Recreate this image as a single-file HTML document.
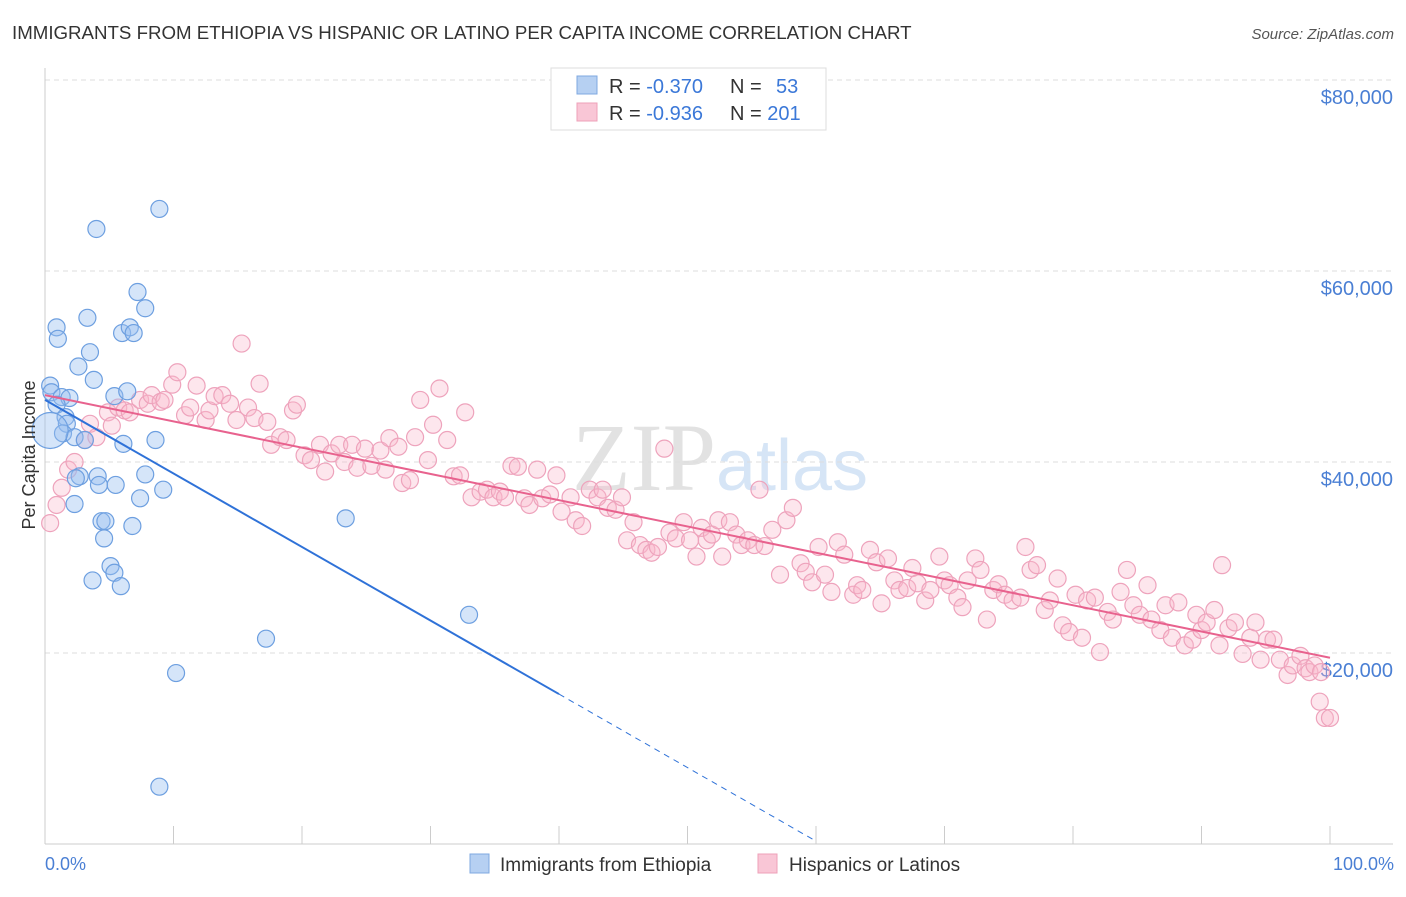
<!DOCTYPE html>
<html><head><meta charset="utf-8"><style>
body{margin:0;background:#fff;font-family:"Liberation Sans",sans-serif;}
svg text{font-family:"Liberation Sans",sans-serif;}
</style></head><body>
<svg id="chart" width="1406" height="892" xmlns="http://www.w3.org/2000/svg">
<text x="12" y="39" font-size="18.7" fill="#333">IMMIGRANTS FROM ETHIOPIA VS HISPANIC OR LATINO PER CAPITA INCOME CORRELATION CHART</text>
<text x="1394" y="39" font-size="15" fill="#555" font-style="italic" text-anchor="end">Source: ZipAtlas.com</text>
<text x="720" y="490" font-size="96" fill="#e4e4e4" text-anchor="middle" font-family="Liberation Serif"><tspan fill="#e2e2e2" font-family="Liberation Serif">ZIP</tspan><tspan fill="#d6e5f6" font-family="Liberation Sans" font-size="72">atlas</tspan></text>
<g id="grid"></g><g id="axes"></g><g id="pink"></g><g id="blue"></g><g id="lines"></g>
<text x="35" y="455" font-size="18" fill="#333" text-anchor="middle" transform="rotate(-90 35 455)">Per Capita Income</text>
<text x="45" y="870" font-size="18" fill="#4a7fd4">0.0%</text>
<text x="1394" y="870" font-size="18" fill="#4a7fd4" text-anchor="end">100.0%</text>
<g>
<rect x="551" y="68" width="275" height="62" fill="#fff" stroke="#ddd"/>
<rect x="577" y="76" width="20" height="18" fill="#b6d0f2" stroke="#7fa8e0"/>
<rect x="577" y="103" width="20" height="18" fill="#f9c6d6" stroke="#eea0b8"/>
<text x="609" y="93" font-size="20" fill="#333">R = <tspan fill="#3b78d8">-0.370</tspan></text>
<text x="730" y="93" font-size="20" fill="#333">N = <tspan fill="#3b78d8" x="776">53</tspan></text>
<text x="609" y="120" font-size="20" fill="#333">R = <tspan fill="#3b78d8">-0.936</tspan></text>
<text x="730" y="120" font-size="20" fill="#333">N = <tspan fill="#3b78d8">201</tspan></text>
</g>
<g>
<rect x="470" y="854" width="19" height="19" fill="#b6d0f2" stroke="#7fa8e0"/>
<text x="500" y="871" font-size="19" fill="#333">Immigrants from Ethiopia</text>
<rect x="758" y="854" width="19" height="19" fill="#f9c6d6" stroke="#eea0b8"/>
<text x="789" y="871" font-size="19" fill="#333">Hispanics or Latinos</text>
</g>
</svg>
<script>
const yTicks=[20000,40000,60000,80000];
const yTickLabels=["$20,000","$40,000","$60,000","$80,000"];
const xTicks=[0,10,20,30,40,50,60,70,80,90,100];
const blueX=[8.9,4,7.2,7.8,0.9,3.3,1,6,6.6,6.9,3.5,2.6,3.8,0.4,0.5,5.4,6.4,1.3,1.9,0.9,1.6,1.7,1.4,2.3,3.1,6.1,8.6,2.7,4.1,2.4,4.2,5.5,7.8,9.2,7.4,2.3,4.4,4.7,6.8,4.6,23.4,5.1,5.4,3.7,5.9,33,17.2,10.2,8.9];
const blueY=[66.5,64.4,57.8,56.1,54.1,55.1,52.9,53.5,54.1,53.5,51.5,50,48.6,48,47.3,46.9,47.4,46.8,46.7,46,44.7,44,43,42.6,42.3,41.9,42.3,38.5,38.5,38.3,37.6,37.6,38.7,37.1,36.2,35.6,33.8,33.8,33.3,32,34.1,29.1,28.4,27.6,27,24,21.5,17.9,6];
const pinkX=[0.4,0.9,1.3,1.8,2.3,3.1,3.5,4,4.9,5.2,5.7,6.2,6.6,7.4,8,8.3,9,9.3,9.9,10.3,10.9,11.3,11.8,12.5,12.8,13.2,13.8,14.4,14.9,15.3,15.8,16.3,16.7,17.3,17.6,18.3,18.8,19.3,19.6,20.2,20.7,21.4,21.8,22.3,22.9,23.3,23.9,24.3,24.9,25.4,26.1,26.5,26.8,27.5,27.8,28.4,28.8,29.2,29.8,30.2,30.7,31.3,31.8,32.3,32.7,33.2,33.9,34.4,34.9,35.4,35.8,36.3,36.8,37.3,37.7,38.3,38.7,39.3,39.8,40.2,40.9,41.3,41.8,42.4,43,43.4,43.8,44.4,44.9,45.3,45.8,46.3,46.8,47.2,47.7,48.2,48.6,49.1,49.7,50.2,50.7,51.1,51.5,51.9,52.4,52.7,53.3,53.8,54.2,54.7,55.2,55.6,56,56.6,57.2,57.7,58.2,58.8,59.2,59.7,60.2,60.7,61.2,61.7,62.2,62.9,63.2,63.6,64.2,64.7,65.1,65.6,66.1,66.5,67.1,67.5,67.9,68.5,68.9,69.6,70,70.4,71,71.4,71.8,72.4,72.8,73.3,73.8,74.2,74.7,75.3,75.9,76.3,76.7,77.2,77.8,78.2,78.8,79.2,79.7,80.2,80.7,81.1,81.7,82.1,82.7,83.1,83.7,84.2,84.7,85.2,85.8,86.1,86.8,87.2,87.7,88.2,88.7,89.3,89.6,90,90.4,91,91.4,91.6,92.1,92.6,93.2,93.8,94.2,94.6,95.1,95.6,96.1,96.7,97.1,97.7,98.1,98.4,98.8,99.2,99.6,100,99.3];
const pinkY=[33.6,35.5,37.3,39.2,40,42.3,44,42.6,45.2,43.8,45.7,45.4,45.2,46.5,46.1,47,46.3,46.5,48.1,49.4,44.9,45.7,48,44.4,45.4,46.9,47,46.1,44.4,52.4,45.7,44.6,48.2,44.2,41.8,42.6,42.3,45.4,46,40.7,40.2,41.8,39,40.9,41.8,40,41.8,39.4,41.4,39.6,41.2,39.2,42.5,41.6,37.8,38.1,42.6,46.5,40.2,43.9,47.7,42.3,38.5,38.6,45.2,36.3,36.9,37.1,36.3,36.9,36.3,39.6,39.5,36.2,35.5,39.2,36.2,36.6,38.6,34.8,36.3,33.9,33.3,37.1,36.3,37.1,35.2,35,36.3,31.8,33.7,31.3,30.8,30.5,31.1,41.4,32.6,32,33.7,31.8,30.1,33.1,31.8,32.4,33.9,30.1,33.7,32.4,31.3,31.8,31.3,37.1,31.2,32.9,28.2,33.9,35.2,29.4,28.5,27.4,31.1,28.2,26.4,31.6,30.3,26.1,27.1,26.6,30.8,29.5,25.2,29.9,27.6,26.6,26.8,28.9,27.3,25.5,26.6,30.1,27.6,27.1,25.8,24.8,27.6,29.9,28.7,23.5,26.6,27.2,26.1,25.5,25.8,31.1,28.7,29.2,24.5,25.5,27.8,22.9,22.2,26.1,21.6,25.5,25.8,20.1,24.3,23.5,26.4,28.7,25,24,27.1,23.5,22.4,25,21.6,25.3,20.8,21.4,24,22.4,23.2,24.5,20.8,29.2,22.6,23.2,19.9,21.6,23.2,19.3,21.4,21.4,19.3,17.7,18.7,19.7,18.4,18,18.7,14.9,13.2,13.2,18];
const blueTrend=[46.5,-0.77];   // intercept (k$), slope per %
const pinkTrend=[47.0,-0.275];
const NS="http://www.w3.org/2000/svg";
const X0=45,X1=1330,Y0=844,PPK=9.55;
function sx(p){return X0+(X1-X0)*p/100;}
function sy(v){return Y0-v*PPK;}
function mk(tag,attrs,parent){const e=document.createElementNS(NS,tag);for(const k in attrs)e.setAttribute(k,attrs[k]);document.getElementById(parent).appendChild(e);return e;}
yTicks.forEach((t,i)=>{
  const g=mk('line',{x1:45,x2:1393,y1:sy(t/1000),y2:sy(t/1000),stroke:'#ddd','stroke-dasharray':'5,4'},'grid');
  
  
  const l=mk('text',{x:1393,y:sy(t/1000)+24,'font-size':20,fill:'#4a7fd4','text-anchor':'end'},'grid');
  l.textContent=yTickLabels[i];
  
  
});
const ax=mk('line',{x1:45,x2:45,y1:68,y2:Y0,stroke:'#ccc'},'axes');


const bx=mk('line',{x1:45,x2:1393,y1:Y0,y2:Y0,stroke:'#ccc'},'axes');


xTicks.forEach(t=>{
  const k=mk('line',{x1:sx(t),x2:sx(t),y1:826,y2:Y0,stroke:'#ccc'},'axes');
  
  
});
pinkX.forEach((x,i)=>{
  const c=mk('circle',{cx:sx(x),cy:sy(pinkY[i]),r:8.5,fill:'rgba(248,182,204,0.35)',stroke:'#eea3bc','stroke-width':1.2},'pink');
  
  
});
blueX.forEach((x,i)=>{
  const c=mk('circle',{cx:sx(x),cy:sy(blueY[i]),r:8.5,fill:'rgba(150,190,240,0.4)',stroke:'#6d9fe0','stroke-width':1.2},'blue');
  
  
});
const big=mk('circle',{cx:sx(0.4),cy:sy(43.3),r:18,fill:'rgba(150,190,240,0.4)',stroke:'#6d9fe0','stroke-width':1.2},'blue');


const bl=mk('line',{x1:sx(0),y1:sy(blueTrend[0]),x2:sx(40),y2:sy(blueTrend[0]+blueTrend[1]*40),stroke:'#2f72d8','stroke-width':2},'lines');


const bd=mk('line',{x1:sx(40),y1:sy(blueTrend[0]+blueTrend[1]*40),x2:sx(60),y2:sy(blueTrend[0]+blueTrend[1]*60),stroke:'#2f72d8','stroke-width':1,'stroke-dasharray':'6,5'},'lines');


const pl=mk('line',{x1:sx(0),y1:sy(pinkTrend[0]),x2:sx(100),y2:sy(pinkTrend[0]+pinkTrend[1]*100),stroke:'#e8628e','stroke-width':2},'lines');


</script>
</body></html>
